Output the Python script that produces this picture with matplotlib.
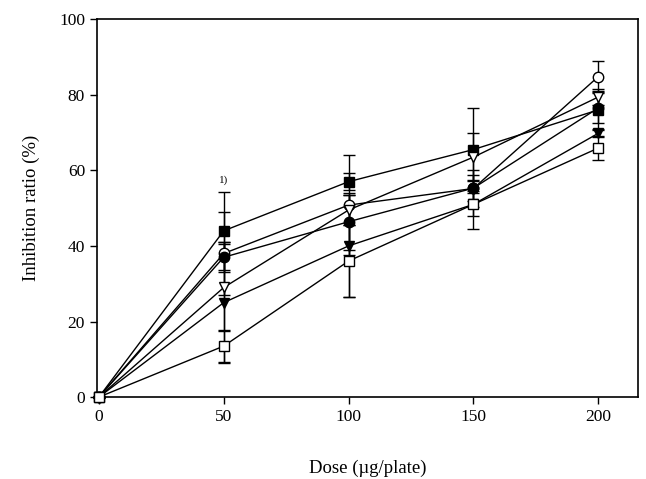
import matplotlib
matplotlib.use("Agg")
import matplotlib.pyplot as plt

plt.rcParams['font.family'] = ['Liberation Serif', 'DejaVu Serif']

dose = [0, 50, 100, 150, 200]

filled_square = [0, 44.0, 57.0, 65.5, 76.0]
filled_square_err = [0, 10.3, 2.2, 11.0, 5.0]
open_circle = [0, 38.0, 50.8, 55.2, 84.8]
open_circle_err = [0, 11.0, 13.2, 5.0, 4.0]
filled_circle = [0, 37.0, 46.4, 55.3, 76.5]
filled_circle_err = [0, 4.0, 7.5, 3.5, 4.0]
open_tri = [0, 29.0, 49.5, 63.5, 79.4]
open_tri_err = [0, 11.5, 4.0, 6.3, 2.0]
filled_tri = [0, 25.0, 40.0, 51.0, 69.8]
filled_tri_err = [0, 16.0, 13.5, 3.0, 1.0]
open_square = [0, 13.5, 36.0, 51.0, 65.9]
open_square_err = [0, 4.3, 9.5, 6.4, 3.2]

series = [
    (filled_square, filled_square_err, 's', 'black'),
    (open_circle, open_circle_err, 'o', 'white'),
    (filled_circle, filled_circle_err, 'o', 'black'),
    (open_tri, open_tri_err, 'v', 'white'),
    (filled_tri, filled_tri_err, 'v', 'black'),
    (open_square, open_square_err, 's', 'white'),
]

fig = plt.figure(figsize=(6.46, 4.79), dpi=100)
ax = fig.add_axes([0.150, 0.171, 0.838, 0.789])

for vals, errs, mk, fc in series:
    ax.errorbar(dose, vals, yerr=errs, color='black', lw=1.0, elinewidth=1.0,
                capsize=4, capthick=1.0, marker=mk, markersize=7.5,
                markerfacecolor=fc, markeredgecolor='black', markeredgewidth=1.0,
                clip_on=False, zorder=3)

ax.text(50, 57.5, '1)', fontsize=8, ha='center', va='center')

ax.set_xlim(-0.8, 216)
ax.set_ylim(0, 100)
ax.set_xticks([0, 50, 100, 150, 200])
ax.set_yticks([0, 20, 40, 60, 80, 100])
ax.tick_params(direction='out', length=5, width=1, labelsize=12.5)
for s in ax.spines.values():
    s.set_linewidth(1.2)
ax.set_xlabel('Dose (\u00b5g/plate)', fontsize=13.5, labelpad=25)
ax.set_ylabel('Inhibition ratio (%)', fontsize=13.5, labelpad=14)

fig.savefig('out.png', dpi=100)
